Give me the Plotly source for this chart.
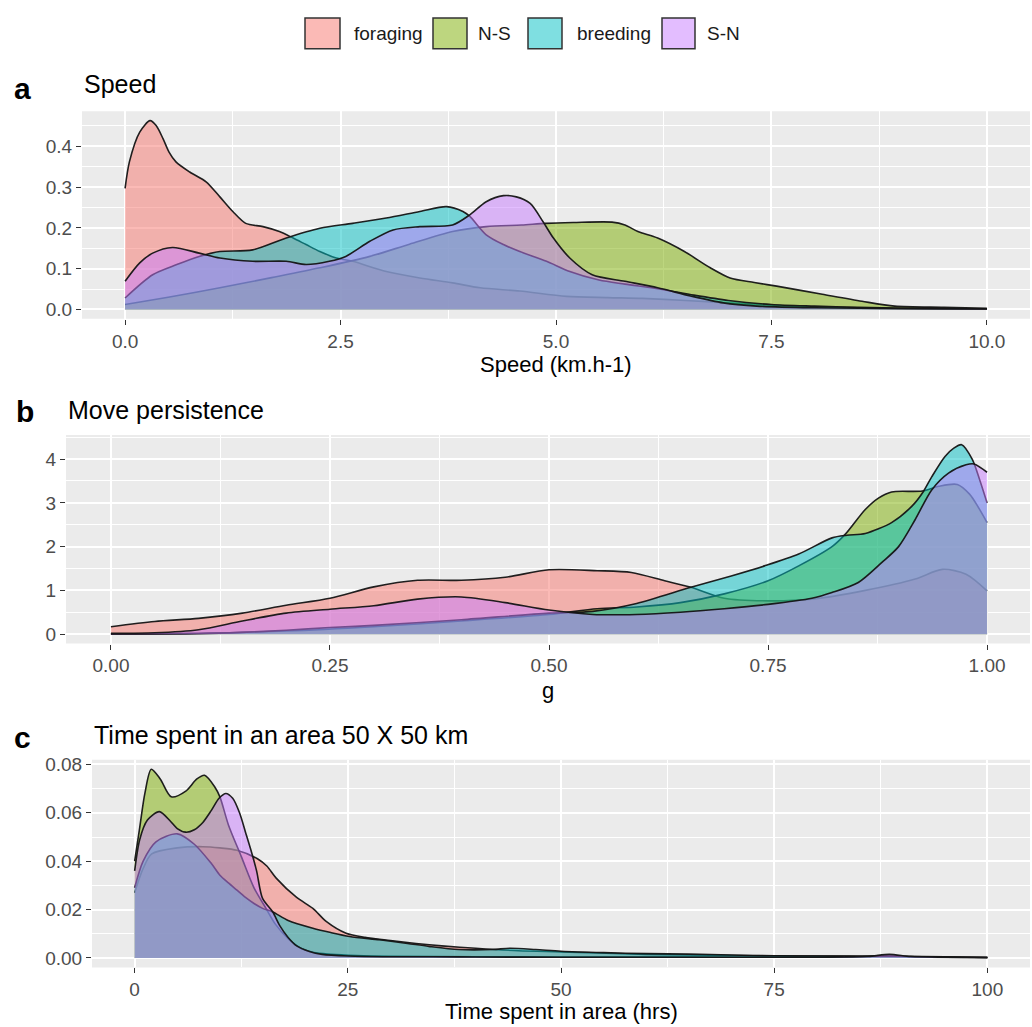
import plotly.graph_objects as go

W, H = 1032, 1027

series_names = ["foraging", "N-S", "breeding", "S-N"]
fill_colors = ["rgba(248,118,109,0.5)", "rgba(124,174,0,0.5)",
               "rgba(0,191,196,0.5)", "rgba(199,124,255,0.5)"]

# ---------------- Panel a: Speed ----------------
a_foraging_x = [0, 0.05, 0.17, 0.29, 0.36, 0.44, 0.51, 0.59, 0.75, 0.94, 1.10, 1.25, 1.40, 1.60, 1.79,
                1.95, 2.10, 2.26, 2.45, 2.64, 3.03, 3.42, 3.80, 4.12, 4.58, 5.12, 5.6, 6.0, 6.5, 7.0,
                7.5, 8.0, 8.5, 9.0, 9.5, 10.0]
a_foraging_y = [0.297, 0.362, 0.435, 0.463, 0.451, 0.419, 0.386, 0.362, 0.337, 0.313, 0.276, 0.24, 0.211,
                0.203, 0.191, 0.175, 0.159, 0.142, 0.126, 0.118, 0.093, 0.077, 0.065, 0.053, 0.045,
                0.032, 0.029, 0.027, 0.022, 0.016, 0.01, 0.006, 0.004, 0.003, 0.002, 0.001]
a_ns_x = [0, 0.5, 1.1, 1.7, 2.26, 2.84, 3.3, 3.8, 4.19, 4.6, 4.88, 5.2, 5.65, 5.8, 5.95, 6.18, 6.49,
          6.79, 7.02, 7.3, 7.56, 8.09, 8.55, 8.93, 9.5, 10.0]
a_ns_y = [0.012, 0.03, 0.053, 0.078, 0.102, 0.13, 0.16, 0.191, 0.203, 0.207, 0.211, 0.213, 0.214,
          0.207, 0.191, 0.175, 0.142, 0.102, 0.077, 0.066, 0.057, 0.037, 0.02, 0.008, 0.005, 0.003]
a_br_x = [0, 0.32, 0.6, 0.86, 1.10, 1.48, 1.87, 2.26, 2.64, 3.03, 3.42, 3.73, 3.92, 4.0, 4.19, 4.39,
          4.58, 4.89, 5.16, 5.5, 5.8, 6.2, 6.6, 7.0, 7.5, 8.0, 8.5, 9.0, 10.0]
a_br_y = [0.028, 0.085, 0.11, 0.13, 0.142, 0.146, 0.175, 0.199, 0.211, 0.224, 0.24, 0.252, 0.24, 0.228,
          0.183, 0.159, 0.142, 0.118, 0.093, 0.072, 0.062, 0.05, 0.035, 0.022, 0.012, 0.008, 0.005,
          0.003, 0.001]
a_sn_x = [0, 0.17, 0.32, 0.55, 0.86, 1.10, 1.48, 1.87, 2.10, 2.37, 2.56, 2.84, 3.11, 3.42, 3.80, 4.0,
          4.19, 4.39, 4.54, 4.70, 4.85, 4.97, 5.16, 5.42, 5.8, 6.18, 6.56, 6.94, 7.33, 8.0, 9.0, 10.0]
a_sn_y = [0.069, 0.114, 0.138, 0.152, 0.138, 0.126, 0.118, 0.118, 0.11, 0.118, 0.13, 0.167, 0.195,
          0.203, 0.207, 0.232, 0.264, 0.279, 0.276, 0.26, 0.215, 0.175, 0.126, 0.085, 0.069, 0.053,
          0.033, 0.016, 0.008, 0.004, 0.002, 0.001]

# ---------------- Panel b: Move persistence ----------------
b_foraging_x = [0, 0.05, 0.1, 0.15, 0.2, 0.25, 0.3, 0.35, 0.4, 0.45, 0.5, 0.555, 0.594, 0.632, 0.662,
                0.7, 0.75, 0.8, 0.861, 0.918, 0.949, 0.976, 1.0]
b_foraging_y = [0.17, 0.29, 0.36, 0.48, 0.66, 0.82, 1.08, 1.23, 1.23, 1.3, 1.47, 1.45, 1.41, 1.22, 1.07,
                0.82, 0.76, 0.8, 1.0, 1.26, 1.48, 1.37, 0.99]
b_ns_x = [0, 0.1, 0.2, 0.3, 0.4, 0.5, 0.555, 0.6, 0.65, 0.7, 0.75, 0.785, 0.823, 0.838, 0.861, 0.876,
          0.891, 0.926, 0.945, 0.966, 0.98, 0.99, 1.0]
b_ns_y = [0.0, 0.02, 0.07, 0.17, 0.3, 0.45, 0.58, 0.62, 0.72, 0.92, 1.22, 1.56, 2.0, 2.28, 2.85, 3.11,
          3.25, 3.27, 3.38, 3.42, 3.2, 2.9, 2.55]
b_br_x = [0, 0.1, 0.15, 0.2, 0.25, 0.3, 0.4, 0.5, 0.55, 0.6, 0.662, 0.708, 0.746, 0.785, 0.823, 0.84,
          0.861, 0.891, 0.914, 0.927, 0.937, 0.952, 0.962, 0.971, 0.983, 0.992, 1.0]
b_br_y = [0.0, 0.01, 0.04, 0.09, 0.15, 0.2, 0.33, 0.48, 0.52, 0.7, 1.07, 1.33, 1.56, 1.83, 2.2, 2.26,
          2.3, 2.55, 2.92, 3.25, 3.6, 4.06, 4.25, 4.33, 4.0, 3.5, 3.0]
b_sn_x = [0, 0.05, 0.1, 0.15, 0.2, 0.25, 0.3, 0.35, 0.4, 0.45, 0.5, 0.55, 0.6, 0.65, 0.7, 0.75, 0.8,
          0.823, 0.853, 0.880, 0.899, 0.918, 0.937, 0.956, 0.976, 0.985, 1.0]
b_sn_y = [0.02, 0.03, 0.1, 0.3, 0.48, 0.57, 0.65, 0.8, 0.85, 0.72, 0.55, 0.45, 0.45, 0.5, 0.58, 0.68,
          0.82, 0.95, 1.18, 1.64, 2.0, 2.62, 3.3, 3.68, 3.87, 3.89, 3.7]

# ---------------- Panel c: Time spent in area ----------------
c_foraging_x = [0, 1, 2, 5, 8, 10, 12, 14.4, 15.5, 16.6, 19, 20.9, 22.5, 24.8, 27, 30, 33, 36, 40, 45,
                50, 60, 70, 80, 90, 100]
c_foraging_y = [0.027, 0.037, 0.043, 0.0455, 0.046, 0.0455, 0.0445, 0.041, 0.038, 0.033, 0.025, 0.0205,
                0.015, 0.0102, 0.0085, 0.0072, 0.006, 0.005, 0.004, 0.003, 0.0025, 0.0015, 0.001,
                0.0008, 0.0006, 0.0002]
c_ns_x = [0, 0.6, 1.2, 1.95, 3, 4.3, 6, 7.3, 8.2, 9.4, 10.0, 11, 12.5, 14, 15.4, 16.5, 18, 19.5, 21, 23,
          26, 30, 40, 50, 60, 70, 80, 88, 92, 100]
c_ns_y = [0.04, 0.054, 0.068, 0.078, 0.074, 0.0666, 0.069, 0.074, 0.0755, 0.0707, 0.0666, 0.055, 0.042,
          0.029, 0.0205, 0.014, 0.008, 0.004, 0.0022, 0.0015, 0.001, 0.0007, 0.0005, 0.0004, 0.0004,
          0.0003, 0.0003, 0.0008, 0.0004, 0.0002]
c_br_x = [0, 1, 2.5, 5, 7, 9, 10, 11, 12, 13, 14, 15, 16.2, 18, 20.9, 23, 25.2, 28.7, 32, 34.5, 38,
          42, 44, 47, 50, 55, 60, 65, 70, 75, 80, 85, 90, 95, 100]
c_br_y = [0.029, 0.04, 0.048, 0.0513, 0.047, 0.039, 0.0342, 0.031, 0.028, 0.025, 0.0225, 0.0205, 0.019,
          0.0155, 0.0123, 0.0105, 0.0089, 0.0075, 0.006, 0.0048, 0.0035, 0.0035, 0.004, 0.0035,
          0.0028, 0.0022, 0.0018, 0.0016, 0.0012, 0.0009, 0.0008, 0.0007, 0.0007, 0.0005, 0.0002]
c_sn_x = [0, 0.6, 1.5, 2.9, 4.2, 5.0, 6.0, 7.0, 8.0, 9.0, 9.9, 10.7, 11.5, 12.3, 13.0, 13.6, 14.3, 15.0,
          16.2, 17, 18, 19, 20.5, 22, 25, 30, 35, 40, 50, 60, 70, 80, 86, 88.5, 91, 95, 100]
c_sn_y = [0.036, 0.049, 0.057, 0.0605, 0.0565, 0.0535, 0.052, 0.053, 0.056, 0.061, 0.066, 0.068,
          0.066, 0.06, 0.052, 0.045, 0.036, 0.0246, 0.019, 0.0135, 0.0085, 0.005, 0.0027, 0.0015,
          0.0008, 0.0005, 0.0005, 0.0004, 0.0003, 0.0003, 0.0003, 0.0003, 0.0006, 0.0015, 0.0006,
          0.0003, 0.0002]

panels = [
    dict(data=[(a_foraging_x, a_foraging_y), (a_ns_x, a_ns_y), (a_br_x, a_br_y), (a_sn_x, a_sn_y)],
         xr=[-0.5, 10.5], yr=[-0.0232, 0.486], xdom=(82, 1030), ydom=(106, 315),
         xtick=2.5, xfmt=".1f", ytick=0.1, yfmt=".1f"),
    dict(data=[(b_foraging_x, b_foraging_y), (b_ns_x, b_ns_y), (b_br_x, b_br_y), (b_sn_x, b_sn_y)],
         xr=[-0.0513, 1.049], yr=[-0.217, 4.55], xdom=(66, 1030), ydom=(432, 642),
         xtick=0.25, xfmt=".2f", ytick=1, yfmt="d"),
    dict(data=[(c_foraging_x, c_foraging_y), (c_ns_x, c_ns_y), (c_br_x, c_br_y), (c_sn_x, c_sn_y)],
         xr=[-5, 105], yr=[-0.0039, 0.0819], xdom=(92, 1030), ydom=(759, 968),
         xtick=25, xfmt="d", ytick=0.02, yfmt=".2f"),
]


def px(x):
    return x / W


def py(y):
    return 1 - y / H


fig = go.Figure()
layout = {}
tick_font = dict(family="Liberation Sans, Arial, sans-serif", size=19, color="#4D4D4D")

for i, p in enumerate(panels):
    n = "" if i == 0 else str(i + 1)
    for (xs, ys), name, fc in zip(p["data"], series_names, fill_colors):
        fig.add_trace(go.Scatter(
            x=xs, y=ys, mode="lines", name=name, showlegend=False,
            line=dict(color="rgba(20,20,20,0.95)", width=1.6, shape="spline", smoothing=0.8),
            fill="tozeroy", fillcolor=fc,
            xaxis="x" + n, yaxis="y" + n,
        ))
    layout["xaxis" + n] = dict(
        domain=[px(p["xdom"][0]), px(p["xdom"][1])], range=p["xr"], anchor="y" + n,
        tickmode="linear", tick0=0, dtick=p["xtick"], tickformat=p["xfmt"],
        showgrid=True, gridcolor="white", gridwidth=1.5, zeroline=False, showline=False,
        ticks="outside", ticklen=5, tickwidth=1.2, tickcolor="#333333", tickfont=tick_font,
        minor=dict(tick0=0, dtick=p["xtick"] / 2, showgrid=True, gridcolor="white", gridwidth=0.7,
                   ticks=""),
    )
    layout["yaxis" + n] = dict(
        domain=[py(p["ydom"][1]), py(p["ydom"][0])], range=p["yr"], anchor="x" + n,
        tickmode="linear", tick0=0, dtick=p["ytick"], tickformat=p["yfmt"],
        showgrid=True, gridcolor="white", gridwidth=1.5, zeroline=False, showline=False,
        ticks="outside", ticklen=5, tickwidth=1.2, tickcolor="#333333", tickfont=tick_font,
        minor=dict(tick0=0, dtick=p["ytick"] / 2, showgrid=True, gridcolor="white", gridwidth=0.7,
                   ticks=""),
    )

shapes = []
# panel backgrounds
for p in panels:
    shapes.append(dict(type="rect", xref="paper", yref="paper", layer="below",
                       x0=px(p["xdom"][0]), x1=px(p["xdom"][1]),
                       y0=py(p["ydom"][1]), y1=py(p["ydom"][0]),
                       fillcolor="#EBEBEB", line=dict(width=0)))

font_fam = "Liberation Sans, Arial, sans-serif"
annotations = []


def add_text(text, x, y, size, color="black", bold=False, xanchor="left"):
    annotations.append(dict(
        text=("<b>%s</b>" % text) if bold else text, x=px(x), y=py(y), xref="paper", yref="paper",
        xanchor=xanchor, yanchor="middle", showarrow=False,
        font=dict(family=font_fam, size=size, color=color)))


# legend (manual keys)
legend_boxes = [(305, 340), (433, 467), (528, 562), (662, 695)]
legend_text_x = [352, 476, 575, 705]
for (bx0, bx1), tx, name, fc in zip(legend_boxes, legend_text_x, series_names, fill_colors):
    shapes.append(dict(type="rect", xref="paper", yref="paper",
                       x0=px(bx0), x1=px(bx1), y0=py(43), y1=py(12),
                       fillcolor=fc, line=dict(color="#333333", width=1.5)))
    add_text(name, tx, 28, 19, color="#1A1A1A")

# panel letters and titles
add_text("a", 12, 83, 30, bold=True)
add_text("Speed", 82, 79, 25)
add_text("b", 14, 408, 30, bold=True)
add_text("Move persistence", 66, 407, 25)
add_text("c", 12, 737, 30, bold=True)
add_text("Time spent in an area 50 X 50 km", 92, 734, 25)

# axis titles
add_text("Speed (km.h-1)", 556, 361, 22, xanchor="center")
add_text("g", 548, 689, 22, xanchor="center")
add_text("Time spent in area (hrs)", 561, 1012, 22, xanchor="center")

fig.update_layout(
    width=W, height=H, margin=dict(l=0, r=0, t=0, b=0),
    paper_bgcolor="white", plot_bgcolor="rgba(0,0,0,0)",
    showlegend=False, shapes=shapes, annotations=annotations,
    font=dict(family=font_fam),
    **layout,
)

fig.write_html("out.html", config={"displayModeBar": False},
               post_script="document.body.style.margin='0';document.body.style.overflow='hidden';")
